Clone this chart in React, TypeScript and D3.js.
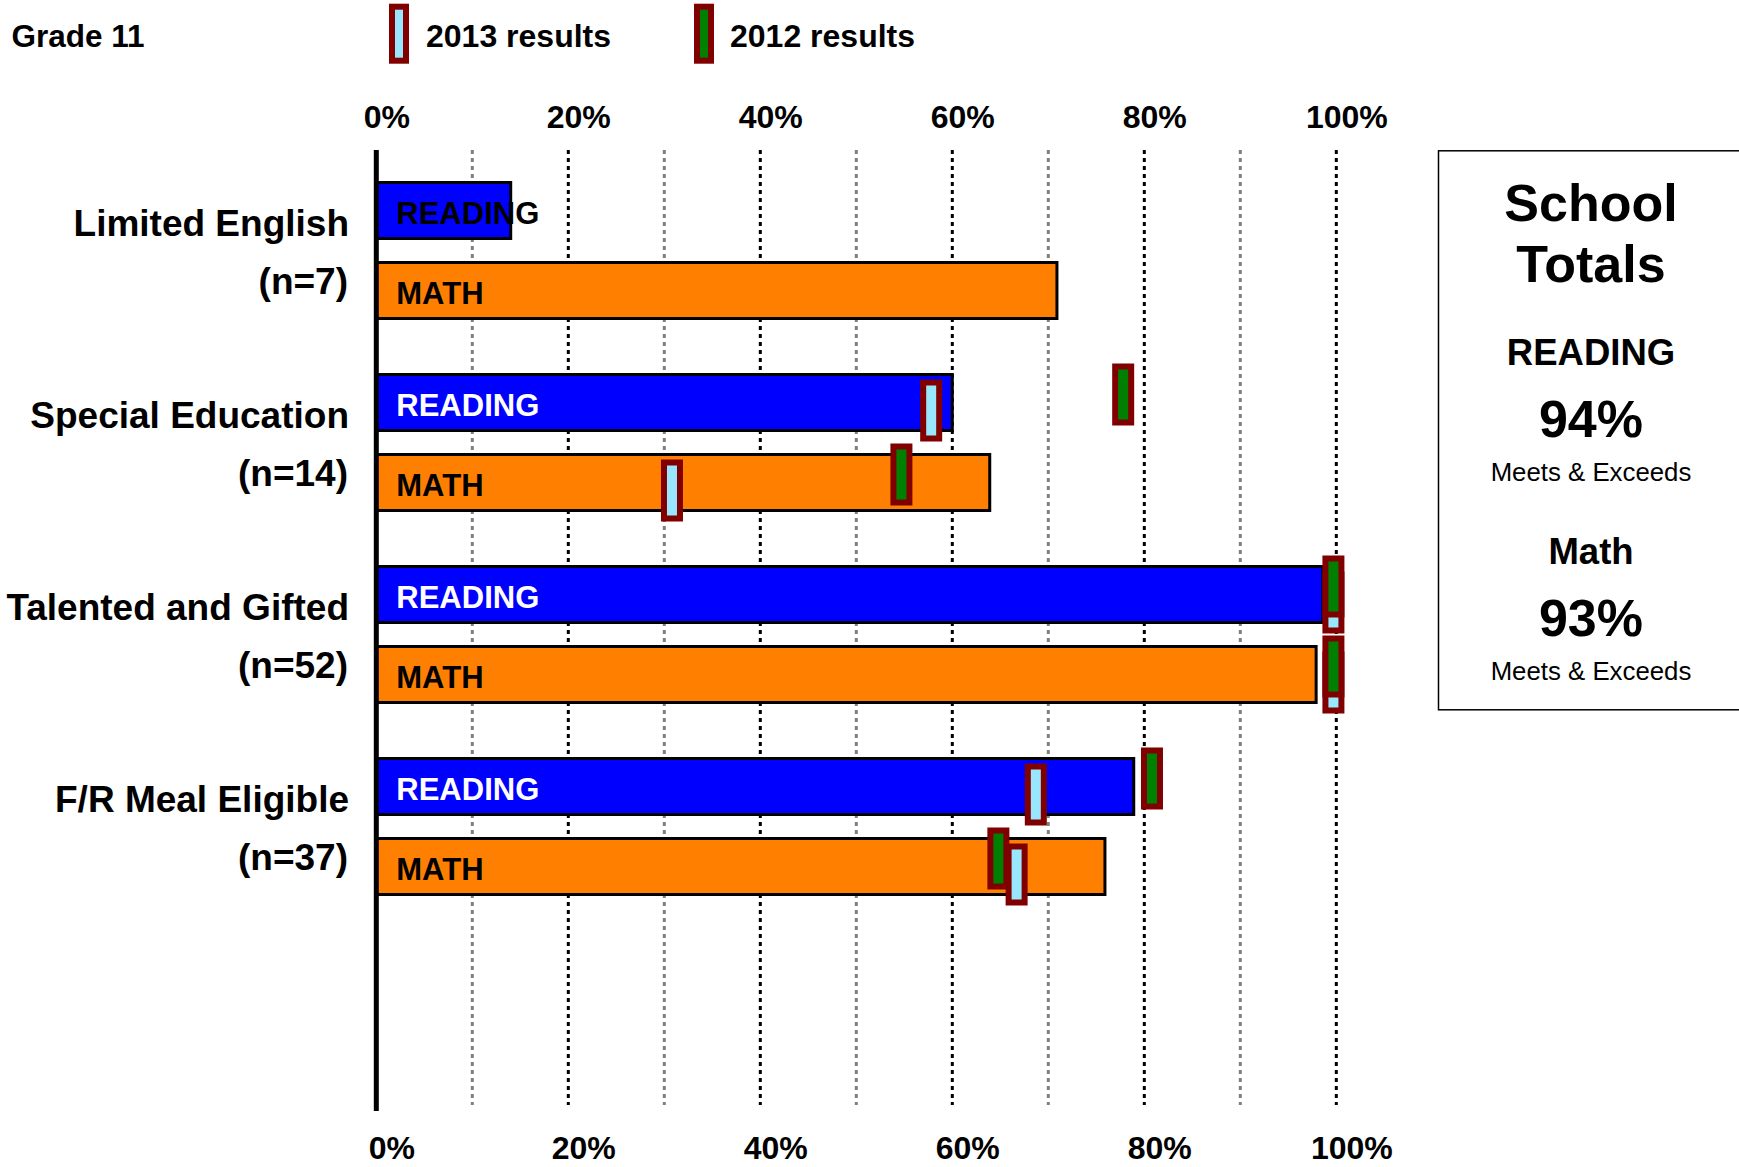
import React from "react";
import * as d3 from "d3";

const W = 1739;
const H = 1167;

const categories = ["Limited English", "Special Education", "Talented and Gifted", "F/R Meal Eligible"];
const counts = ["(n=7)", "(n=14)", "(n=52)", "(n=37)"];
const subjects = ["READING", "MATH"];

// current-year bars (%)
const readingBars = [14.0, 60.0, 98.6, 78.9];
const mathBars = [70.9, 63.9, 97.9, 75.9];

// comparison markers (%), null = not shown
const reading2013 = [null, 57.8, 99.7, 68.7];
const reading2012 = [null, 77.8, 99.7, 80.8];
const math2013 = [null, 30.8, 99.7, 66.7];
const math2012 = [null, 54.7, 99.7, 64.8];

const tickValues = [0, 20, 40, 60, 80, 100];
const gridValues = [10, 20, 30, 40, 50, 60, 70, 80, 90, 100];

const legendItems = ["2013 results", "2012 results"];
const totalsSubjects = ["READING", "Math"];
const totalsValues = ["94%", "93%"];

const FONT = "'Liberation Sans', Arial, Helvetica, sans-serif";
const BLUE = "#0000FF";
const ORANGE = "#FF8000";
const MARK_BORDER = "#800000";
const FILL_2013 = "#99E6FF";
const FILL_2012 = "#008000";

export default function App() {
  const x = d3.scaleLinear().domain([0, 100]).range([376.3, 1336.3]);
  const groups = [...categories, ""];
  const y = d3.scaleBand<string>().domain(groups).range([150, 1110]).padding(0);
  const inner = d3
    .scaleBand<string>()
    .domain(subjects)
    .range([32.5, 168.5])
    .paddingInner(0.3)
    .paddingOuter(0);

  const barSets = [readingBars, mathBars];
  const barFills = [BLUE, ORANGE];
  const labelFills = ["#FFFFFF", "#000000"];
  const markerSets = [
    [reading2013, reading2012],
    [math2013, math2012],
  ];
  const years = [2013, 2012];

  const labelFont = 31;
  const labelWidth = (s: string) => {
    const w: Record<string, number> = { R: 0.722, E: 0.667, A: 0.722, D: 0.722, I: 0.278, N: 0.722, G: 0.778, M: 0.833, T: 0.611, H: 0.722 };
    return s.split("").reduce((a, c) => a + (w[c] || 0.6), 0) * labelFont;
  };

  type Marker = { cat: number; subj: number; year: number; value: number };
  const markers: Marker[] = [];
  categories.forEach((_, ci) => {
    subjects.forEach((_, si) => {
      markerSets[si].forEach((arr, yi) => {
        const v = arr[ci];
        if (v !== null && v !== undefined) markers.push({ cat: ci, subj: si, year: years[yi], value: v as number });
      });
    });
  });
  markers.sort((a, b) => (a.value !== b.value ? a.value - b.value : b.year - a.year));

  const markW = 16;
  const markH = inner.bandwidth();

  return (
    <svg
      width={W}
      height={H}
      style={{ position: "absolute", left: 0, top: 0, display: "block", background: "#fff" }}
      fontFamily={FONT}
    >
      <rect x={0} y={0} width={W} height={H} fill="#fff" />

      {/* header */}
      <text x={11.5} y={47} fontSize={31.5} fontWeight="bold">Grade 11</text>
      {legendItems.map((t, i) => {
        const mx = i === 0 ? 399 : 704;
        return (
          <g key={t}>
            <rect x={mx - 7} y={33.7 - 27} width={14} height={54} fill={i === 0 ? FILL_2013 : FILL_2012} stroke={MARK_BORDER} strokeWidth={6} />
            <text x={i === 0 ? 426 : 730} y={47} fontSize={32} fontWeight="bold">{t}</text>
          </g>
        );
      })}

      {/* gridlines */}
      {gridValues.map((v) => (
        <line
          key={v}
          x1={x(v)}
          x2={x(v)}
          y1={150}
          y2={1105}
          stroke={v % 20 === 0 ? "#000" : "#808080"}
          strokeWidth={3}
          strokeDasharray="4 4"
        />
      ))}

      {/* tick labels top & bottom */}
      {tickValues.map((v) => (
        <g key={v}>
          <text x={x(v) + 10.5} y={127.5} fontSize={32} fontWeight="bold" textAnchor="middle">{v}%</text>
          <text x={x(v) + 15.5} y={1159} fontSize={32} fontWeight="bold" textAnchor="middle">{v}%</text>
        </g>
      ))}

      {/* category labels */}
      {categories.map((c, i) => (
        <g key={c}>
          <text x={349} y={(y(c) as number) + 86} fontSize={37} fontWeight="bold" textAnchor="end">{c}</text>
          <text x={348} y={(y(c) as number) + 143.5} fontSize={37} fontWeight="bold" textAnchor="end">{counts[i]}</text>
        </g>
      ))}

      {/* bars */}
      {categories.map((c, ci) =>
        subjects.map((s, si) => {
          const y0 = (y(c) as number) + (inner(s) as number);
          const v = barSets[si][ci];
          const x0 = x(0);
          const x1 = x(v);
          const lx = x0 + 20;
          const fits = lx + labelWidth(s) < x1 - 4;
          return (
            <g key={c + s}>
              <rect x={x0} y={y0} width={x1 - x0} height={inner.bandwidth()} fill={barFills[si]} stroke="#000" strokeWidth={3} />
              <text x={lx} y={y0 + inner.bandwidth() / 2 + 13} fontSize={labelFont} fontWeight="bold" fill={fits ? labelFills[si] : "#000"}>
                {s}
              </text>
            </g>
          );
        })
      )}

      {/* markers */}
      {markers.map((m, i) => {
        const c = categories[m.cat];
        const s = subjects[m.subj];
        const cy = (y(c) as number) + (inner(s) as number) + inner.bandwidth() / 2 + (m.year === 2013 ? 8 : -8);
        return (
          <rect
            key={i}
            x={x(m.value) - markW / 2}
            y={cy - markH / 2}
            width={markW}
            height={markH}
            fill={m.year === 2013 ? FILL_2013 : FILL_2012}
            stroke={MARK_BORDER}
            strokeWidth={6}
          />
        );
      })}

      {/* axis line */}
      <line x1={x(0)} x2={x(0)} y1={150} y2={1111} stroke="#000" strokeWidth={5} />

      {/* school totals box */}
      <rect x={1438.5} y={150.8} width={400} height={559} fill="#fff" stroke="#000" strokeWidth={1.5} />
      <text x={1591} y={221} fontSize={52} fontWeight="bold" textAnchor="middle">School</text>
      <text x={1591} y={282} fontSize={52} fontWeight="bold" textAnchor="middle">Totals</text>
      {totalsSubjects.map((t, i) => {
        const base = i === 0 ? 0 : 199;
        return (
          <g key={t}>
            <text x={1591} y={365 + base} fontSize={36.5} fontWeight="bold" textAnchor="middle">{t}</text>
            <text x={1591} y={436.5 + base} fontSize={52} fontWeight="bold" textAnchor="middle">{totalsValues[i]}</text>
            <text x={1591} y={481 + base} fontSize={25.8} textAnchor="middle">Meets &amp; Exceeds</text>
          </g>
        );
      })}
    </svg>
  );
}
